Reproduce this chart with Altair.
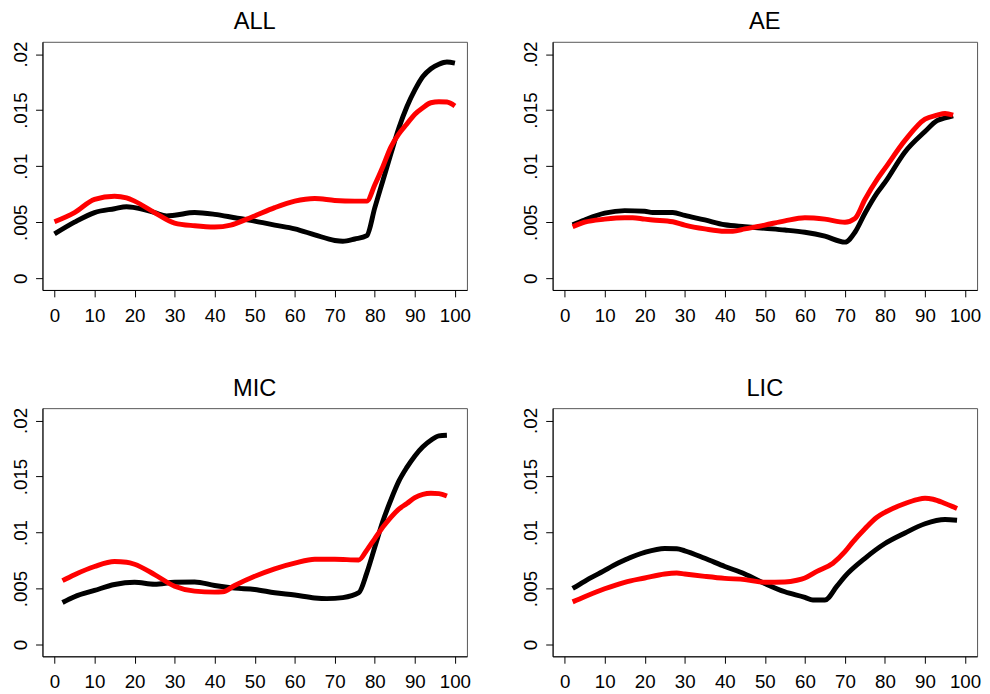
import pandas as pd
import altair as alt

FONT = "Liberation Sans"
PANELS = ["ALL", "AE", "MIC", "LIC"]
X_TICKS = [0, 10, 20, 30, 40, 50, 60, 70, 80, 90, 100]
Y_TICKS = [0, 0.005, 0.01, 0.015, 0.02]

# ALL
ALL_BLACK_X = [0, 5, 10, 15, 18, 20, 25, 28, 30, 35, 40, 45, 50, 55, 60, 65, 70, 72, 75, 78,
               80, 82, 84, 86, 88, 90, 92, 94, 96, 98, 100]
ALL_BLACK_Y = [0.00395, 0.0050, 0.00586, 0.0062, 0.00638, 0.0063, 0.00586, 0.00556, 0.00562, 0.00586,
               0.0057, 0.0054, 0.0051, 0.00474, 0.0044, 0.00387, 0.00337, 0.0033, 0.0035, 0.0038,
               0.0063, 0.0087, 0.0111, 0.0134, 0.0153, 0.0168, 0.018, 0.0187, 0.0191, 0.0193, 0.0192]
ALL_RED_X = [0, 5, 10, 15, 18, 20, 25, 30, 35, 40, 44, 48, 50, 55, 60, 65, 70, 75, 78,
             80, 82, 84, 86, 88, 90, 92, 94, 96, 98, 100]
ALL_RED_Y = [0.00504, 0.00586, 0.00703, 0.00732, 0.00717, 0.00688, 0.00586, 0.00492, 0.00468, 0.00457,
             0.00474, 0.00527, 0.00556, 0.0063, 0.00688, 0.00711, 0.00694, 0.00688, 0.00688,
             0.00834, 0.00995, 0.0117, 0.01288, 0.01376, 0.01464, 0.01522, 0.01566, 0.01575, 0.01572, 0.01537]

# AE
AE_BLACK_X = [2, 5, 10, 15, 20, 22, 27, 30, 35, 40, 45, 50, 55, 60, 65, 70, 72.5, 75, 78, 80,
              85, 90, 93, 95, 97]
AE_BLACK_Y = [0.00477, 0.0052, 0.0058, 0.00603, 0.00597, 0.00586, 0.00586, 0.0056, 0.0052, 0.00477,
              0.0046, 0.00445, 0.0043, 0.0041, 0.00375, 0.00322, 0.0041, 0.0058, 0.0076, 0.00855,
              0.01127, 0.01309, 0.01406, 0.0143, 0.0145]
AE_RED_X = [2, 5, 10, 15, 17, 20, 22, 27, 30, 35, 40, 42, 45, 50, 55, 60, 65, 70, 72.5, 75, 78, 80,
            85, 90, 93, 95, 97]
AE_RED_Y = [0.0046, 0.005, 0.00527, 0.0054, 0.0054, 0.00527, 0.0052, 0.00504, 0.00474, 0.0044,
            0.00419, 0.00419, 0.0044, 0.00474, 0.00512, 0.00539, 0.00527, 0.005, 0.00533, 0.00703,
            0.0088, 0.0098, 0.0123, 0.0142, 0.01455, 0.0147, 0.01455]

# MIC
MIC_BLACK_X = [2, 5, 10, 15, 20, 25, 30, 35, 40, 45, 50, 55, 60, 65, 68, 72, 76, 78, 80, 82, 84,
               86, 88, 90, 92, 94, 96, 98]
MIC_BLACK_Y = [0.00375, 0.00427, 0.00483, 0.00536, 0.00556, 0.00539, 0.00556, 0.00559, 0.00527, 0.00504,
               0.00492, 0.00463, 0.00442, 0.00416, 0.0041, 0.00419, 0.00463, 0.0064, 0.0087, 0.0110, 0.0129,
               0.01458, 0.01581, 0.01684, 0.01766, 0.01824, 0.01862, 0.01868]
MIC_RED_X = [2, 5, 10, 15, 18, 20, 25, 30, 35, 40, 42, 45, 50, 55, 60, 65, 70, 76, 78, 80, 82, 84,
             86, 88, 90, 92, 94, 96, 98]
MIC_RED_Y = [0.00571, 0.00624, 0.00697, 0.00741, 0.00735, 0.00717, 0.00624, 0.00521, 0.00477, 0.00468,
             0.00471, 0.00527, 0.00609, 0.00676, 0.00726, 0.00761, 0.00761, 0.00755, 0.00843, 0.00946,
             0.01048, 0.01136, 0.01209, 0.01259, 0.01312, 0.01341, 0.0135, 0.01347, 0.01326]

# LIC
LIC_BLACK_X = [2, 5, 10, 12, 15, 20, 25, 28, 30, 35, 40, 45, 50, 55, 60, 62, 65, 68, 70, 75, 80,
               85, 90, 95, 98]
LIC_BLACK_Y = [0.00501, 0.00565, 0.00662, 0.00703, 0.00755, 0.00823, 0.00858, 0.00855, 0.00837, 0.0077,
               0.00697, 0.0063, 0.00545, 0.00471, 0.00422, 0.00398, 0.00398, 0.00521, 0.00609, 0.0077,
               0.00902, 0.00996, 0.01078, 0.01116, 0.0111]
LIC_RED_X = [2, 5, 10, 15, 20, 25, 28, 30, 35, 40, 45, 50, 55, 58, 60, 63, 67, 70, 72, 75, 78, 80,
             85, 88, 90, 92, 95, 98]
LIC_RED_Y = [0.00381, 0.00427, 0.00498, 0.00556, 0.00594, 0.0063, 0.00638, 0.0063, 0.00609, 0.00591,
             0.0058, 0.00556, 0.00559, 0.00574, 0.00594, 0.00653, 0.00726, 0.00829, 0.00917, 0.01034,
             0.01136, 0.0118, 0.01259, 0.01294, 0.01306, 0.01297, 0.01259, 0.01215]

SERIES = [
    ("ALL", "s1", ALL_BLACK_X, ALL_BLACK_Y), ("ALL", "s2", ALL_RED_X, ALL_RED_Y),
    ("AE", "s1", AE_BLACK_X, AE_BLACK_Y), ("AE", "s2", AE_RED_X, AE_RED_Y),
    ("MIC", "s1", MIC_BLACK_X, MIC_BLACK_Y), ("MIC", "s2", MIC_RED_X, MIC_RED_Y),
    ("LIC", "s1", LIC_BLACK_X, LIC_BLACK_Y), ("LIC", "s2", LIC_RED_X, LIC_RED_Y),
]

frames = []
for panel, group, xs, ys in SERIES:
    frames.append(pd.DataFrame({"panel": panel, "group": group, "pct": xs, "density": ys}))
df = pd.concat(frames, ignore_index=True)

base = alt.Chart(df).mark_line(strokeWidth=5, interpolate="monotone", clip=True).encode(
    x=alt.X("pct:Q", title=None,
            scale=alt.Scale(domain=[-3, 103], nice=False, zero=False),
            axis=alt.Axis(values=X_TICKS, labelPadding=10)),
    y=alt.Y("density:Q", title=None,
            scale=alt.Scale(domain=[-0.00105, 0.0211], nice=False, zero=False),
            axis=alt.Axis(values=Y_TICKS, labelAngle=270, labelAlign="center", labelBaseline="alphabetic",
                          labelPadding=9,
                          labelExpr="datum.value == 0 ? '0' : replace(format(datum.value, '~g'), '0.', '.')")),
    color=alt.Color("group:N", scale=alt.Scale(domain=["s1", "s2"], range=["#000000", "#ff0000"]), legend=None),
    order="pct:Q",
).properties(width=431, height=252)

chart = base.facet(
    facet=alt.Facet("panel:N", sort=PANELS,
                    header=alt.Header(title=None, labelFontSize=24, labelFont=FONT, labelColor="black",
                                      labelPadding=7)),
    columns=2,
    spacing={"row": 50, "column": 50},
).resolve_axis(
    x="independent", y="independent"
).properties(
    padding={"left": 3, "top": -4, "right": 0, "bottom": 0}
).configure_view(
    stroke="#555555", strokeWidth=1
).configure_axis(
    domain=True, domainColor="black", domainWidth=1, grid=False, tickColor="black", tickSize=7,
    labelPadding=8, labelFont=FONT, labelFontSize=19, labelColor="black"
)

chart.save("out.html", embed_options={"renderer": "svg", "actions": False})
